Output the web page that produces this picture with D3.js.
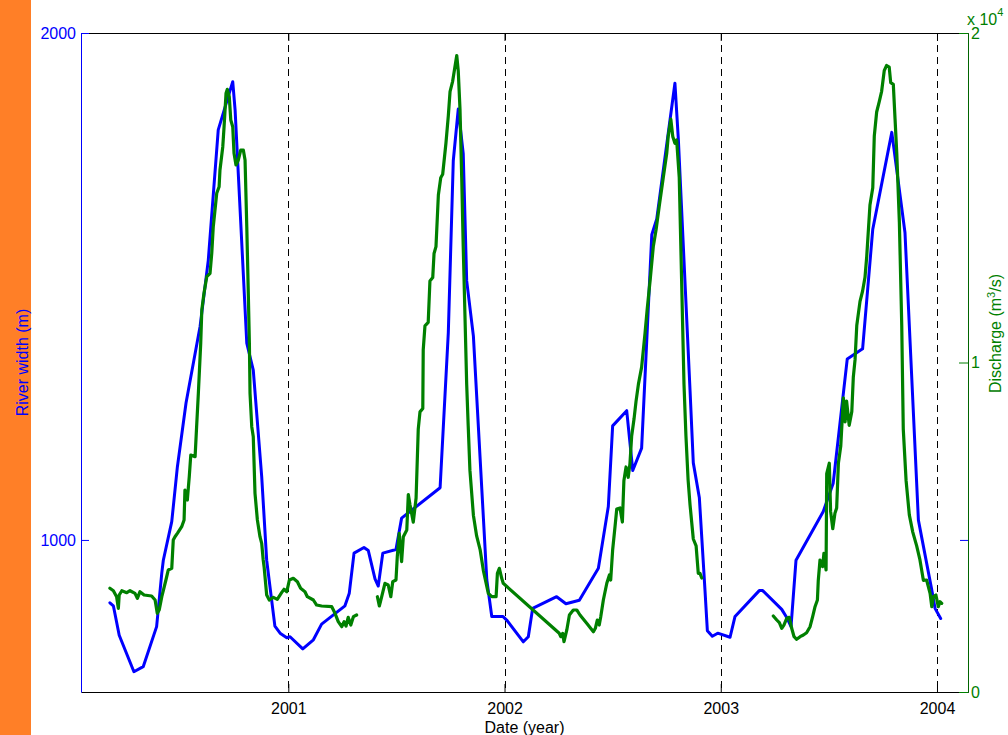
<!DOCTYPE html>
<html>
<head>
<meta charset="utf-8">
<script src="https://cdn.jsdelivr.net/npm/d3@7"></script>
<style>
html,body{margin:0;padding:0;background:#fff;}
svg{display:block;font-family:"Liberation Sans",Arial,Helvetica,sans-serif;}
</style>
</head>
<body>
<svg id="chart" width="1008" height="735"></svg>
<script>
// ---------- DATA ----------
const yearTicks = [2001, 2002, 2003, 2004];
const widthTicks = [1000, 2000];
const dischargeTicks = [0, 10000, 20000];
const dischargeTickLabels = ["0", "1", "2"];

const widthYears = [2000.175,2000.191,2000.218,2000.286,2000.329,2000.391,2000.415,2000.422,2000.461,2000.487,
2000.527,2000.592,2000.630,2000.676,2000.743,2000.754,2000.808,2000.838,2000.877,2000.900,
2000.938,2000.962,2000.993,2001.008,2001.067,2001.116,2001.154,2001.262,2001.282,2001.304,
2001.350,2001.370,2001.401,2001.416,2001.437,2001.498,2001.524,2001.702,2001.740,2001.763,
2001.786,2001.809,2001.825,2001.856,2001.918,2001.941,2001.992,2002.010,2002.087,2002.110,
2002.130,2002.241,2002.284,2002.346,2002.434,2002.480,2002.500,2002.565,2002.593,2002.634,
2002.681,2002.704,2002.788,2002.804,2002.858,2002.873,2002.901,2002.927,2002.938,2002.961,
2002.986,2003.043,2003.066,2003.178,2003.194,2003.282,2003.305,2003.325,2003.348,2003.474,
2003.520,2003.585,2003.656,2003.703,2003.791,2003.852,2003.914,2003.976,2003.991,2004.017];
const widthValues = [876,870,812,740,750,829,935,960,1036,1144,
1270,1421,1552,1809,1904,1848,1388,1335,1125,960,
830,816,807,809,785,803,834,870,895,974,
985,979,923,909,974,981,1043,1103,1409,1748,
1850,1762,1511,1402,921,849,849,842,799,809,
865,888,874,881,944,1066,1225,1255,1137,1181,
1602,1633,1901,1789,1294,1152,1083,901,821,810,
816,808,849,900,900,863,847,829,960,1056,
1112,1357,1377,1613,1804,1606,1039,901,865,845];

// null entries mark gaps in the discharge record
const dischargeYears = [
2000.175,2000.191,2000.206,2000.214,2000.218,2000.230,2000.253,2000.268,2000.291,2000.302,
2000.314,2000.333,2000.368,2000.384,2000.394,2000.403,2000.415,2000.434,2000.445,2000.461,
2000.468,2000.476,2000.487,2000.507,2000.518,2000.522,2000.533,2000.542,2000.549,2000.569,
2000.576,2000.584,2000.595,2000.600,2000.610,2000.623,2000.638,2000.646,2000.653,2000.661,
2000.669,2000.680,2000.684,2000.697,2000.703,2000.712,2000.718,2000.727,2000.734,2000.743,
2000.749,2000.758,2000.769,2000.780,2000.792,2000.800,2000.808,2000.815,2000.820,2000.823,
2000.831,2000.838,2000.846,2000.857,2000.869,2000.877,2000.884,2000.888,2000.900,2000.912,
2000.931,2000.949,2000.969,2000.980,2000.993,2001.005,2001.023,2001.042,2001.057,2001.077,
2001.088,2001.116,2001.131,2001.154,2001.201,2001.216,2001.231,2001.247,2001.258,2001.267,
2001.277,2001.289,2001.301,2001.316,
2001.360,
2001.412,2001.421,2001.432,2001.447,2001.462,2001.474,2001.483,2001.498,2001.504,2001.513,
2001.524,2001.532,2001.548,2001.555,2001.563,2001.578,2001.591,2001.601,2001.609,2001.622,
2001.624,2001.632,2001.647,2001.655,2001.668,2001.674,2001.683,2001.694,2001.705,2001.714,
2001.729,2001.740,2001.748,2001.760,2001.779,2001.786,2001.794,2001.802,2001.809,2001.817,
2001.825,2001.832,2001.840,2001.856,2001.871,2001.887,2001.902,2001.925,2001.941,2001.961,
2001.967,2001.976,2001.987,2001.994,2002.253,2002.260,2002.269,2002.275,2002.288,2002.300,
2002.318,2002.334,2002.349,2002.380,2002.411,2002.420,2002.429,2002.438,2002.445,2002.457,
2002.473,2002.485,2002.491,2002.500,2002.511,2002.519,2002.534,2002.545,2002.552,2002.562,
2002.572,2002.580,2002.588,2002.599,2002.608,2002.619,2002.634,2002.650,2002.660,2002.673,
2002.688,2002.701,2002.716,2002.734,2002.750,2002.757,2002.769,2002.778,2002.788,2002.796,
2002.808,2002.819,2002.830,2002.839,2002.849,2002.858,2002.873,2002.886,2002.896,2002.904,
2002.912,
2003.000,
2003.243,2003.259,2003.271,2003.282,2003.292,2003.305,2003.317,2003.328,2003.339,2003.351,
2003.367,2003.382,2003.397,2003.413,2003.425,2003.436,2003.447,2003.451,2003.459,2003.471,
2003.477,2003.487,2003.490,2003.502,2003.508,2003.518,2003.528,2003.536,2003.544,2003.555,
2003.567,2003.575,2003.582,2003.594,2003.606,2003.613,2003.621,2003.629,2003.644,2003.656,
2003.667,2003.675,2003.690,2003.703,2003.710,2003.721,2003.733,2003.744,2003.756,2003.767,
2003.779,2003.786,2003.798,2003.806,2003.814,2003.826,2003.837,2003.844,2003.857,2003.872,
2003.888,2003.906,2003.921,2003.937,2003.952,2003.968,2003.976,2003.983,2003.995,2004.006,
2004.014,2004.022];
const dischargeValues = [
3150,3074,2892,2540,2944,3074,3014,3074,2995,2844,
3044,2944,2914,2792,2388,2489,2892,3399,3703,3754,
4613,4713,4816,5017,5220,6130,5827,6534,7193,7141,
8052,9065,10583,11593,12100,12604,12707,13314,14121,14628,
15135,15335,15842,16549,17156,18170,18291,18067,17360,17156,
16349,15994,16146,16449,16449,16146,14121,12100,10583,9065,
8052,7748,6030,5220,4713,4513,4006,3803,2944,2792,
2874,2813,3014,3117,3044,3399,3451,3348,3147,3044,
2892,2792,2640,2610,2589,2388,2134,1982,2134,2003,
2267,2033,2285,2337,
null,
2892,2610,2892,3299,3247,2892,3348,3399,4106,4816,
3954,4713,4917,5994,5675,5156,5888,7979,8501,8604,
10382,11114,11217,12473,12577,13308,13517,15083,15609,15712,
16653,17487,18218,18534,19317,18847,17696,15609,13517,11426,
9335,8082,6725,5366,4737,4322,3693,2995,2892,2892,
3602,3754,3451,3299,1781,1678,1781,1527,1882,2337,
2489,2489,2337,2085,1830,1933,2185,2033,2285,2792,
3299,3551,3399,4310,5017,5554,5584,5159,6410,6829,
6516,6932,7769,8291,8813,9335,9860,10904,11636,12473,
13517,14039,14771,15609,16340,16862,17384,16862,16653,16756,
15609,12473,9335,7769,6434,5675,4643,4434,3599,3599,
3460,
null,
2307,2185,2103,1933,2033,2237,2267,1933,1678,1599,
1678,1730,1800,1982,2285,2589,2792,3390,4006,3803,
4209,3703,6628,6944,5481,4956,5426,5584,6944,7466,
8929,8197,8825,8094,8510,9557,10079,11123,11854,12170,
12586,13214,14780,15305,16871,17602,17915,18231,18856,19014,
18962,18492,18440,17393,16349,14258,11123,7988,6422,5375,
4853,4434,4015,3390,3399,2995,2589,2892,2944,2589,
2741,2692];

// ---------- LAYOUT ----------
const L = 81, R = 968, T = 33, B = 692;
const BLUE = "#0000ff", GREEN = "#008000", AXGREEN = "#006400";
const FONT = 16;

const svg = d3.select("#chart");

svg.append("rect").attr("x", 0).attr("y", 0).attr("width", 31).attr("height", 735).attr("fill", "#ff7f27");

const x = d3.scaleLinear().domain([2000.0413, 2004.1434]).range([L, R]);
const yL = d3.scaleLinear().domain([700, 2000]).range([B, T]);
const yR = d3.scaleLinear().domain([0, 20000]).range([B, T]);

// dashed year lines
svg.append("g").selectAll("line").data(yearTicks).join("line")
  .attr("x1", d => Math.round(x(d)) + 0.5).attr("x2", d => Math.round(x(d)) + 0.5)
  .attr("y1", T).attr("y2", B)
  .attr("stroke", "#000").attr("stroke-width", 1).attr("stroke-dasharray", "7,5");

// lines
const widthPts = widthYears.map((yr, i) => [yr, widthValues[i]]);
const qPts = dischargeYears.map((yr, i) => [yr, dischargeValues[i]]);

svg.append("path").datum(widthPts)
  .attr("d", d3.line().x(d => x(d[0])).y(d => yL(d[1])))
  .attr("fill", "none").attr("stroke", BLUE).attr("stroke-width", 3)
  .attr("stroke-linejoin", "round").attr("stroke-linecap", "round");

svg.append("path").datum(qPts)
  .attr("d", d3.line().defined(d => d[1] != null).x(d => x(d[0])).y(d => yR(d[1])))
  .attr("fill", "none").attr("stroke", GREEN).attr("stroke-width", 3.2)
  .attr("stroke-linejoin", "round").attr("stroke-linecap", "round");

// axes
function styleAxis(g, color, lineColor) {
  g.selectAll(".tick line").attr("stroke", lineColor || color);
  g.selectAll(".tick text").attr("fill", color).style("font-size", FONT + "px")
    .style("font-family", '"Liberation Sans",Arial,sans-serif');
}

const xBottom = svg.append("g").attr("transform", `translate(0,${B})`)
  .call(d3.axisBottom(x).tickValues(yearTicks).tickFormat(d3.format("d"))
    .tickSizeInner(-8).tickSizeOuter(0).tickPadding(11));
xBottom.select(".domain").attr("stroke", "#000");
styleAxis(xBottom, "#000");

const xTop = svg.append("g").attr("transform", `translate(0,${T})`)
  .call(d3.axisTop(x).tickValues(yearTicks).tickFormat("").tickSizeInner(-8).tickSizeOuter(0));
xTop.select(".domain").attr("stroke", "#000");
styleAxis(xTop, "#000");

const yLeft = svg.append("g").attr("transform", `translate(${L},0)`)
  .call(d3.axisLeft(yL).tickValues(widthTicks).tickFormat(d3.format("d"))
    .tickSizeInner(-8).tickSizeOuter(0).tickPadding(5));
yLeft.select(".domain").attr("stroke", BLUE);
styleAxis(yLeft, BLUE);

const yLeftMirror = svg.append("g").attr("transform", `translate(${R},0)`)
  .call(d3.axisRight(yL).tickValues(widthTicks).tickFormat("").tickSizeInner(-8).tickSizeOuter(0));
yLeftMirror.select(".domain").attr("stroke", "#000");
styleAxis(yLeftMirror, BLUE);

const yRight = svg.append("g").attr("transform", `translate(${R},0)`)
  .call(d3.axisRight(yR).tickValues(dischargeTicks).tickFormat((d, i) => dischargeTickLabels[i])
    .tickSizeInner(-9).tickSizeOuter(0).tickPadding(3));
yRight.select(".domain").attr("stroke", AXGREEN);
styleAxis(yRight, GREEN);

// exponent label
const ex = svg.append("text").attr("x", 967).attr("y", 25).attr("fill", GREEN)
  .style("font-size", FONT + "px");
ex.append("tspan").text("x 10");
ex.append("tspan").attr("dy", -9).style("font-size", "11px").text("4");

// axis titles
svg.append("text").attr("x", (L + R) / 2).attr("y", 733).attr("text-anchor", "middle")
  .attr("fill", "#000").style("font-size", FONT + "px").text("Date (year)");

svg.append("text").attr("transform", `translate(28,${(T + B) / 2}) rotate(-90)`)
  .attr("text-anchor", "middle").attr("fill", BLUE).style("font-size", FONT + "px")
  .text("River width (m)");

const dl = svg.append("text").attr("transform", `translate(1001,${(T + B) / 2 - 29}) rotate(-90)`)
  .attr("text-anchor", "middle").attr("fill", GREEN).style("font-size", FONT + "px");
dl.append("tspan").text("Discharge (m");
dl.append("tspan").attr("dy", -6).style("font-size", "11px").text("3");
dl.append("tspan").attr("dy", 6).text("/s)");
</script>
</body>
</html>
